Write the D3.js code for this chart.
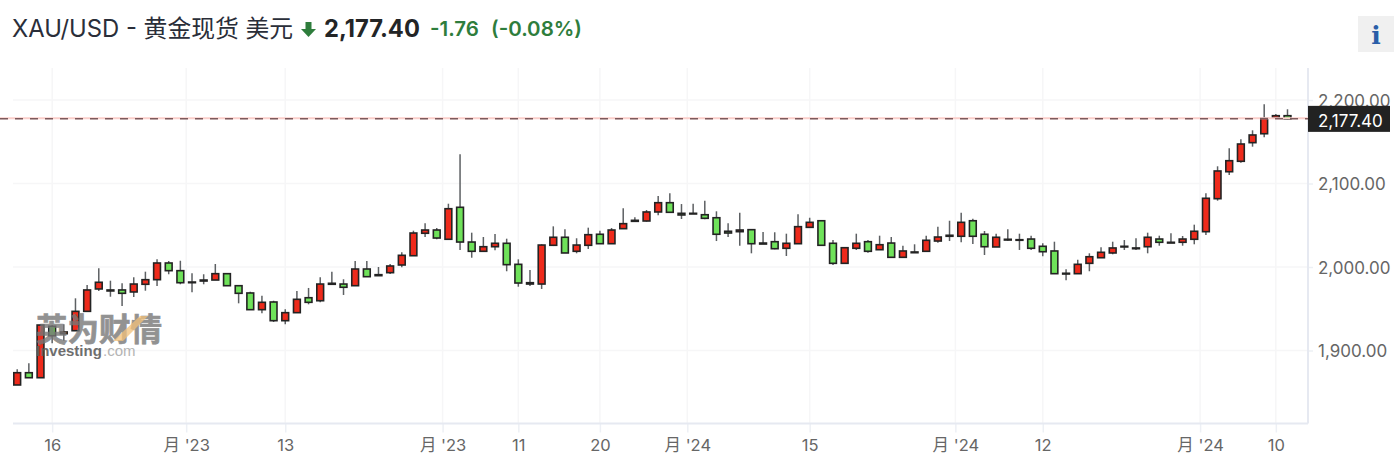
<!DOCTYPE html>
<html><head><meta charset="utf-8">
<script src="https://cdnjs.cloudflare.com/ajax/libs/d3/7.8.5/d3.min.js"></script>
<style>html,body{margin:0;padding:0;background:#fff;overflow:hidden}svg{display:block}text{font-family:Inter,Roboto,"Noto Sans CJK SC",sans-serif}</style>
</head><body><svg id="c" width="1400" height="470"></svg>
<script>
const opens=[1858.7,1873.4,1867.4,1929,1920.1,1923.7,1946.9,1973.7,1972.5,1972.5,1970.1,1979.3,1984.8,2004.8,1995.6,1982,1983.2,1984.4,1992,1977.6,1968.9,1948.9,1958.1,1935.7,1945.3,1963.2,1959.6,1980.5,1979.6,1977.6,1997.6,1990.8,1993.2,2002.4,2013.5,2040.4,2044.3,2033.2,2071.5,2029.9,2018.8,2024.3,2028.4,2003.2,1981.2,1979.6,2026,2035.6,2018.8,2026,2039.2,2027.9,2045.9,2054.7,2055.1,2065.9,2077,2064.3,2064.3,2062.6,2059,2042.8,2042.3,2044.7,2028.7,2030.3,2022.4,2027.9,2047.5,2055.4,2028.4,2004.4,2022.4,2030.3,2020.7,2028.7,2011.6,2018,2018.8,2031.1,2038,2036.8,2055.4,2039.2,2024,2033.2,2032.7,2033.5,2024.8,2019.2,1992.5,1992,2004.4,2011.1,2016.8,2024.8,2022.8,2024.3,2033.5,2029.6,2029.6,2033.2,2042.3,2081.8,2114.1,2126.6,2148.9,2159.6,2178.4,2181.2];
const highs=[1877.5,1884.7,1931.4,1930.5,1931.4,1962.5,1978.4,1998.4,1983.6,1980.5,1987.7,1994.4,2009.2,2007.2,2007.5,1992.5,1991.3,2003.6,1992.5,1978.4,1970.4,1965.6,1959.6,1949.3,1971.3,1974.9,1987.7,1994.4,1985.3,2007.2,2007.2,2000,2003.6,2017.6,2043.5,2052.3,2046.7,2075.8,2135,2041.1,2035.9,2039.5,2033.9,2009.2,1996.4,2027.2,2048.7,2045.1,2034.4,2047.1,2043.5,2046.7,2070.3,2059.5,2068.3,2085,2088.3,2075.4,2075.8,2079.4,2066.7,2052.3,2065,2045.1,2041.9,2041.6,2039.9,2063.1,2059,2055.4,2032.3,2023.1,2039.9,2032.3,2037.5,2035.9,2025.5,2027.2,2037.5,2048.3,2055.4,2065,2057.8,2043.1,2039.9,2045.1,2039.9,2037.5,2028.4,2030.3,1997.2,2008.7,2016.4,2023.6,2030.3,2032.3,2034.4,2041.1,2037.5,2040.4,2037.1,2050.7,2088.3,2120.6,2142.2,2152.9,2163.7,2194.9,2183.2,2188.9];
const lows=[1858.7,1867.4,1867.4,1908.6,1911.7,1923.7,1946.9,1971.3,1964.4,1953.3,1964.1,1971.6,1977.2,1991.3,1979.3,1969.7,1979.3,1984.4,1977.6,1956.5,1948.9,1944.6,1934.1,1931.4,1945.3,1955.3,1957.7,1979.3,1966.5,1977.6,1988.4,1989.6,1991.6,1999.6,2013.5,2035.9,2033.2,2033.2,2020.4,2011.1,2018.8,2020,1994.9,1976.4,1977.2,1973.7,2025.1,2016.8,2016.4,2021.6,2027.9,2027.9,2045.9,2054.7,2054.3,2061.9,2065.5,2057.5,2063.5,2057.1,2031.1,2035.9,2025.5,2016.4,2027.5,2021.2,2013.2,2027.9,2046.7,2026,2002.4,2004.4,2020.4,2017.1,2020.7,2011.6,2011.6,2017.1,2018.8,2029.1,2031.1,2029.6,2027.5,2014.4,2024,2031.5,2020.4,2020.4,2012.8,1992,1984.1,1992,1994.9,2011.1,2015.2,2020.4,2020.4,2016.4,2025.5,2028.7,2025.5,2027.2,2038.3,2079.4,2110.2,2124.9,2144.1,2155.3,2177.6,2176.9];
const closes=[1873.4,1867.4,1930.5,1917.7,1922.2,1946.9,1972.5,1981.7,1971.3,1968.5,1979.6,1984.8,2004.8,1995.6,1981.2,1981.2,1984.4,1992,1977.6,1968.5,1948.9,1957.7,1935.7,1945.3,1961.3,1957.7,1979.6,1979.3,1975.7,1997.6,1988.4,1989.6,2001.2,2014,2040.7,2044.3,2034.7,2069.8,2029.9,2018.8,2024.3,2028.4,2002.8,1980.8,1979.6,2026.3,2035.6,2016.8,2026.3,2038.7,2027.9,2044.3,2051.9,2055.9,2065.9,2077,2065.5,2062.3,2063.5,2058.3,2039.2,2040.7,2044.3,2027.9,2027.5,2021.9,2028.4,2048.3,2053.5,2026,2004.4,2023.1,2028.4,2018.8,2026.7,2011.6,2019.2,2017.1,2032,2035.9,2036.8,2053.5,2036.8,2024.3,2035.6,2032.3,2032,2022.4,2018.3,1992,1991.6,2003.2,2012.3,2017.6,2022.8,2024,2021.9,2035.6,2029.6,2028.7,2033.5,2042.8,2082.3,2115,2127.3,2147.3,2158.1,2178.1,2181.2,2177.4];
const xTickPos=[3,14.5,23,36.5,43,50,57.5,68,80.5,88,101.5,108];
const xTickLabels=["16","月 '23","13","月 '23","11","20","月 '24","15","月 '24","12","月 '24","10"];
const yTicks=[1900,2000,2100,2200];
const lastPrice=2177.40;

const svg=d3.select("#c");
const x=d3.scaleLinear().domain([0,109]).range([17.2,1287.5]);
const y=d3.scaleLinear().domain([1900,2200]).range([350.5,100]);
const L=13,R=1308,T=68,B=423.5;

const g=svg.append("g");
g.selectAll("line.h").data(yTicks).join("line").attr("class","h").attr("x1",L).attr("x2",R).attr("y1",d=>y(d)).attr("y2",d=>y(d)).attr("stroke","#f6f6f7").attr("stroke-width",1.5);
g.selectAll("line.v").data(xTickPos).join("line").attr("class","v").attr("x1",d=>x(d)).attr("x2",d=>x(d)).attr("y1",T).attr("y2",B).attr("stroke","#f6f6f7").attr("stroke-width",1.5);

const ax=svg.append("g").attr("transform",`translate(0,${B})`).call(d3.axisBottom(x).tickValues(xTickPos).tickFormat((d,i)=>xTickLabels[i]).tickSize(9).tickPadding(7));
ax.select(".domain").remove();
ax.selectAll("line").attr("stroke","#edf0f5").attr("stroke-width",1.5);
ax.selectAll("text").attr("fill","#666").style("font-size","16.5px");
const ay=svg.append("g").attr("transform",`translate(${R},0)`).call(d3.axisRight(y).tickValues(yTicks).tickFormat(d3.format(",.2f")).tickSize(5).tickPadding(5));
ay.select(".domain").remove();
ay.selectAll("line").attr("stroke","#edf0f5").attr("stroke-width",1.5);
ay.selectAll("text").attr("fill","#666").style("font-size","17px").attr("dy","0.36em");
svg.append("line").attr("x1",L).attr("x2",R).attr("y1",B).attr("y2",B).attr("stroke","#e6e9f1").attr("stroke-width",2);
svg.append("line").attr("x1",R).attr("x2",R).attr("y1",T).attr("y2",B).attr("stroke","#e6e9f1").attr("stroke-width",2);

const data=opens.map((o,i)=>({i,o,h:highs[i],l:lows[i],c:closes[i]}));
const cg=svg.append("g");
cg.selectAll("line.w").data(data).join("line").attr("class","w").attr("x1",d=>x(d.i)).attr("x2",d=>x(d.i)).attr("y1",d=>y(d.h)).attr("y2",d=>y(d.l)).attr("stroke","#5d6063").attr("stroke-width",1.5);
cg.selectAll("rect").data(data).join("rect")
  .attr("x",d=>x(d.i)-3.4).attr("width",6.8)
  .attr("y",d=>y(Math.max(d.o,d.c))).attr("height",d=>Math.max(0.4,Math.abs(y(d.o)-y(d.c))))
  .attr("fill",d=>d.c>=d.o?"#ee2a1b":"#6fe25a").attr("stroke","#232323").attr("stroke-width",1.6);

svg.append("line").attr("x1",0).attr("x2",R).attr("y1",y(lastPrice)-0.6).attr("y2",y(lastPrice)-0.6).attr("stroke","#fbcfcb").attr("stroke-width",2);
svg.append("line").attr("x1",0).attr("x2",R).attr("y1",y(lastPrice)).attr("y2",y(lastPrice)).attr("stroke","#7d5a5c").attr("stroke-width",1.5).attr("stroke-dasharray","8 7");
svg.append("rect").attr("x",R).attr("y",y(lastPrice)-13).attr("width",82).attr("height",26).attr("fill","#222");
svg.append("text").attr("x",1318).attr("y",y(lastPrice)+8).attr("fill","#fff").style("font-size","17px").text(d3.format(",.2f")(lastPrice));

const wm=svg.append("g");
wm.append("text").attr("x",36).attr("y",341).attr("fill","#777").attr("stroke","#777").attr("stroke-width",0.7).attr("opacity",0.8).style("font-size","31.5px").style("font-weight","700").style("font-family","'Noto Sans CJK SC'").text("英为财情");
wm.append("text").attr("x",36).attr("y",356).attr("fill","#5f5f5f").attr("opacity",0.9).style("font-size","15px").style("font-weight","700").style("font-family","'Liberation Sans'").text("Investing");
wm.append("text").attr("x",103).attr("y",356).attr("fill","#a8a8a8").attr("opacity",0.85).style("font-size","15px").style("font-family","'Liberation Sans'").text(".com");
wm.append("path").attr("d",d3.line()([[113,341],[123,341],[148,316],[140,316]])+"Z").attr("fill","#f2c079").attr("opacity",0.75);

svg.append("text").attr("x",12).attr("y",37).attr("fill","#2a2e39").style("font-size","23.8px").text("XAU/USD - 黄金现货 美元");
svg.append("path").attr("d",d3.line()([[305.5,22],[311.5,22],[311.5,29],[316,29],[308.5,37],[301,29],[305.5,29]])+"Z").attr("fill","#2e7d3c");
svg.append("text").attr("x",324).attr("y",37).attr("fill","#232526").style("font-size","23.7px").style("font-weight","700").text("2,177.40");
svg.append("text").attr("x",430).attr("y",36).attr("fill","#2e7d3c").style("font-size","20.5px").style("font-weight","600").text("-1.76");
svg.append("text").attr("x",491).attr("y",36).attr("fill","#2e7d3c").style("font-size","20.5px").style("font-weight","600").text("(-0.08%)");
svg.append("rect").attr("x",1358).attr("y",16).attr("width",36).attr("height",36).attr("fill","#f0f0f0");
svg.append("text").attr("x",1376).attr("y",44).attr("text-anchor","middle").attr("fill","#2a5ea8").style("font-size","25px").style("font-weight","700").style("font-family","'DejaVu Serif'").text("i");
</script></body></html>
